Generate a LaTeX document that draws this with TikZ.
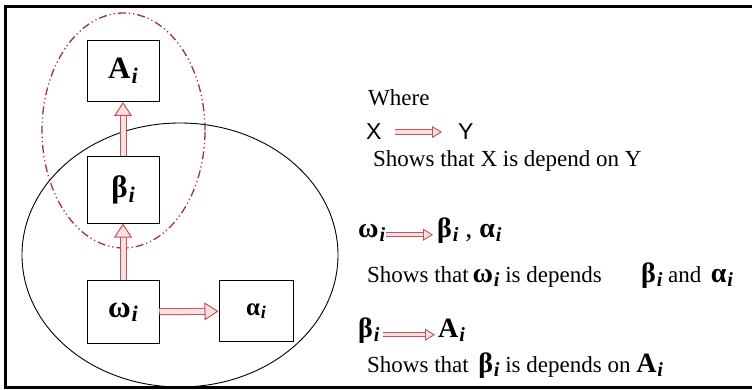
\documentclass[tikz,border=0pt]{standalone}
\usepackage{fontspec}
\setmainfont{Liberation Serif}
\newfontfamily\xyfont{Liberation Sans}
\usetikzlibrary{arrows.meta}
\definecolor{deprred}{HTML}{C8505C}
\definecolor{depfill}{HTML}{F6E0E0}
\definecolor{grpred}{HTML}{A3303C}
\newcommand{\symi}[1]{\textbf{#1}\kern.03em\raisebox{-.32ex}{\scalebox{.72}{\textbf{\textit{i}}}}}
\newcommand{\bigsym}[1]{{\fontsize{28}{30}\selectfont\symi{#1}}}

\begin{document}
\begin{tikzpicture}[x=1pt, y=-1pt,
  box/.style={draw, line width=1pt, inner sep=0pt, minimum width=72pt, font=\fontsize{31}{33}\selectfont},
  dep/.style={draw=deprred, line width=1pt, double=depfill, double distance=5pt,
    -{Triangle[length=14pt, width=18pt, line width=1pt, fill=depfill]}},
  legdep/.style={draw=deprred, line width=.9pt, double=depfill, double distance=3.5pt,
    -{Triangle[length=10pt, width=12pt, line width=.9pt, fill=depfill]}},
  legtext/.style={inner sep=0pt, anchor=base west, font=\fontsize{23}{26}\selectfont},
  legsym/.style={inner sep=0pt, anchor=base west, font=\fontsize{28}{30}\selectfont}]
\useasboundingbox (0,0) rectangle (752,390);
\draw[line width=3pt] (752,6.5) -- (5.5,6.5) -- (5.5,387.5) -- (752,387.5);

\draw[line width=.9pt] (180,255) ellipse [x radius=158pt, y radius=132pt];
\draw[grpred, line width=1.3pt, dash pattern=on 8pt off 3pt on 1.2pt off 3pt on 1.2pt off 3pt]
  (123.5,130.5) ellipse [x radius=81.5pt, y radius=117.5pt];

\node[box, minimum height=61pt] (A) at (123,71) {\symi{A}};
\node[box, minimum height=66pt] (b) at (123,190) {\symi{β}};
\node[box, minimum height=63pt] (w) at (123,312) {\symi{ω}};
\node[box, minimum width=74pt, minimum height=61pt, font=\fontsize{25}{27}\selectfont] (a) at (256,311) {\symi{α}};
\draw[dep] (w) -- (b);
\draw[dep] (b) -- (A);
\draw[dep] (w) -- (a);

\node[legtext] (where) at (368,106) {Where};
\node[legtext, font=\fontsize{23}{25}\xyfont] (x) at (366,140) {X};
\node[legtext, font=\fontsize{23}{25}\xyfont] (y) at (458,140) {Y};
\draw[legdep, shorten <=13pt, shorten >=16pt] (x) -- (y);
\node[legtext] (xy) at (373,167) {Shows that X is depend on Y};

\node[legsym] (lw) at (358,237) {\symi{ω}};
\node[legsym] (lba) at (437,237) {\symi{β} , \symi{α}};
\draw[legdep, shorten <=1pt, shorten >=4pt] (lw.mid east) -- (lba.mid west);
\node[legtext] (wtxt) at (367,282) {Shows that\,\bigsym{ω} is depends};
\node[legtext] (batxt) at (641,282) {\bigsym{β} and \,\bigsym{α}};

\node[legsym] (lb) at (358,337) {\symi{β}};
\node[legsym] (lA) at (438,337) {\symi{A}};
\draw[legdep, shorten <=3pt, shorten >=3pt] (lb.mid east) -- (lA.mid west);
\node[legtext] (btxt) at (367,372) {Shows that \,\bigsym{β} is depends on \bigsym{A}};
\end{tikzpicture}
\end{document}
